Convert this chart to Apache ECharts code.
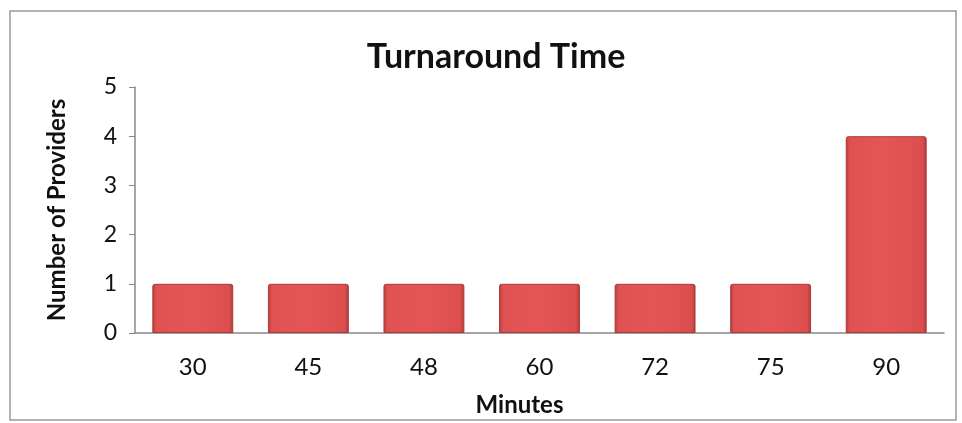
<!DOCTYPE html>
<html><head><meta charset="utf-8">
<script src="https://cdn.jsdelivr.net/npm/echarts@6/dist/echarts.min.js"></script>
<style>html,body{margin:0;padding:0;background:#fff}#c{width:962px;height:423px}</style>
</head><body><div id="c"></div>
<script>
const categories = ['30','45','48','60','72','75','90'];
const providers = [1,1,1,1,1,1,4];
const yTicks = [0,1,2,3,4,5];
const title = 'Turnaround Time';
const xName = 'Minutes';
const yName = 'Number of Providers';

const FONT = 'Lato, "Open Sans", sans-serif';
const chart = echarts.init(document.getElementById('c'));
chart.setOption({
  animation:false,
  backgroundColor:'#fff',
  graphic:[{type:'rect',shape:{x:10,y:11,width:946,height:409},style:{fill:'none',stroke:'#999',lineWidth:1.5}}],
  title:{text:title,left:491,top:35,textAlign:'center',textStyle:{fontFamily:FONT,fontSize:34,fontWeight:'bold',color:'#111'}},
  grid:{left:135,right:18,top:87,bottom:90,containLabel:false,outerBoundsMode:'none'},
  xAxis:{type:'category',data:categories,name:xName,nameLocation:'middle',nameGap:60,
    nameTextStyle:{fontFamily:FONT,fontSize:24,fontWeight:'bold',color:'#111',padding:[0,40,0,0]},
    axisLine:{lineStyle:{color:'#888',width:1.5}},axisTick:{show:false},
    axisLabel:{fontFamily:FONT,fontSize:24,color:'#111',margin:22}},
  yAxis:{type:'value',min:yTicks[0],max:yTicks[yTicks.length-1],interval:1,name:yName,nameLocation:'middle',nameGap:66,
    nameTextStyle:{fontFamily:FONT,fontSize:24,fontWeight:'bold',color:'#111'},
    axisLine:{show:true,lineStyle:{color:'#888',width:1.5}},axisTick:{show:true,length:6,lineStyle:{color:'#888'}},
    splitLine:{show:false},
    axisLabel:{fontFamily:FONT,fontSize:23,color:'#111',margin:18}},
  series:[{type:'bar',data:providers,barWidth:'70%',
    itemStyle:{borderColor:'#a83a3a',borderWidth:1,borderRadius:[2,2,0,0],
      color:new echarts.graphic.LinearGradient(0,0,1,0,[
        {offset:0,color:'#b83c3c'},{offset:0.05,color:'#e05252'},{offset:0.5,color:'#e55555'},{offset:0.95,color:'#dc4e4e'},{offset:1,color:'#b03838'}])}}]
});
</script></body></html>
